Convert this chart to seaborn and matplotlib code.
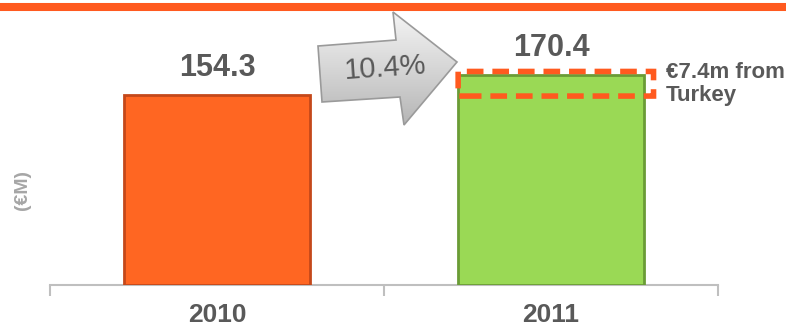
import numpy as np
import pandas as pd
import matplotlib
matplotlib.use("Agg")
import matplotlib.pyplot as plt
import seaborn as sns
from matplotlib.patches import Polygon, FancyBboxPatch

years = ["2010", "2011"]
values = [154.3, 170.4]
bar_colors = ["#FF6622", "#9AD955"]
edge_colors = ["#C4481A", "#6A9C36"]
growth_label = "10.4%"
note_label = "€7.4m from\nTurkey"
y_label = "(€M)"

sns.set_theme(style="white")
plt.rcParams["font.family"] = ["Liberation Sans", "DejaVu Sans"]

W, H = 792, 329
fig = plt.figure(figsize=(W / 100, H / 100), dpi=100)

def fx(x):
    return x / W

def fy(y):
    return 1 - y / H

ax = fig.add_axes([fx(50), fy(285), fx(718) - fx(50), fy(20) - fy(285)])
df = pd.DataFrame({"year": years, "value": values})
sns.barplot(data=df, x="year", y="value", hue="year", palette=bar_colors,
            width=0.555, legend=False, ax=ax, saturation=1)
for p, ec in zip(ax.patches, edge_colors):
    p.set_edgecolor(ec)
    p.set_linewidth(2.0)
    p.set_zorder(3)

ax.set_xlim(-0.5, 1.5)
ax.set_ylim(0, 215.3)
for s in ["top", "right", "left"]:
    ax.spines[s].set_visible(False)
ax.spines["bottom"].set_color("#BFBFBF")
ax.spines["bottom"].set_linewidth(1.5)
ax.set_yticks([])
ax.set_xticks([-0.5, 0.5, 1.5])
ax.set_xticklabels([])
ax.tick_params(axis="x", which="major", length=8, width=1.5, color="#BFBFBF",
               direction="out", bottom=True)
ax.set_xticks([0, 1], minor=True)
ax.set_xticklabels(years, minor=True)
ax.tick_params(axis="x", which="minor", length=0, pad=13, labelsize=19,
               labelcolor="#595959")
for t in ax.get_xticklabels(minor=True):
    t.set_fontweight("bold")
ax.set_xlabel("")
ax.set_ylabel("")

for i, v in enumerate(values):
    ax.annotate(f"{v:.1f}", xy=(i, v), xytext=(0, 9), textcoords="offset points",
                ha="center", va="bottom", fontsize=22, fontweight="bold",
                color="#595959")

# dashed highlight box around the 2011 top (Turkey contribution)
box = FancyBboxPatch((0.722, 153.5), 0.585, 20.0,
                     boxstyle="round,pad=0,rounding_size=0.02",
                     transform=ax.transData, fill=False, edgecolor="#FF5A1F",
                     linewidth=4, linestyle=(0, (3, 1.6)), zorder=5, clip_on=False)
ax.add_patch(box)
ax.text(1.343, 163.5, note_label, transform=ax.transData, ha="left", va="center",
        fontsize=16, fontweight="bold", color="#595959", linespacing=1.1)

# overlay axes for decorations
ov = fig.add_axes([0, 0, 1, 1], zorder=10)
ov.set_xlim(0, W)
ov.set_ylim(H, 0)
ov.axis("off")
ov.patch.set_alpha(0)

# top orange rule
ov.plot([0, 786], [7, 7], color="#FF5A1F", linewidth=5.8, solid_capstyle="butt")

# y label
ov.text(22, 190, y_label, rotation=90, ha="center", va="center", fontsize=14,
        fontweight="bold", color="#A6A6A6")

# grey arrow with gradient
arrow_pts = np.array([(318, 46), (396, 40), (393, 12), (457, 62), (404, 125),
                      (400, 97), (322, 102)])
poly = Polygon(arrow_pts, closed=True, facecolor="none", edgecolor="#9A9A9A",
               linewidth=1.2, zorder=12)
ov.add_patch(poly)
grad = np.linspace(0, 1, 256).reshape(-1, 1)
cmap = matplotlib.colors.LinearSegmentedColormap.from_list(
    "g", ["#F4F4F4", "#D6D6D6", "#B5B5B5"])
im = ov.imshow(grad, extent=(318, 457, 125, 12), cmap=cmap, aspect="auto",
               zorder=11, interpolation="bicubic")
clip = Polygon(arrow_pts, closed=True, transform=ov.transData, facecolor="none",
               edgecolor="none")
ov.add_patch(clip)
im.set_clip_path(clip)
ov.set_xlim(0, W)
ov.set_ylim(H, 0)
ov.text(385, 68, growth_label, rotation=4, ha="center", va="center", fontsize=21,
        color="#595959", zorder=13)

fig.savefig("out.png", dpi=100)
